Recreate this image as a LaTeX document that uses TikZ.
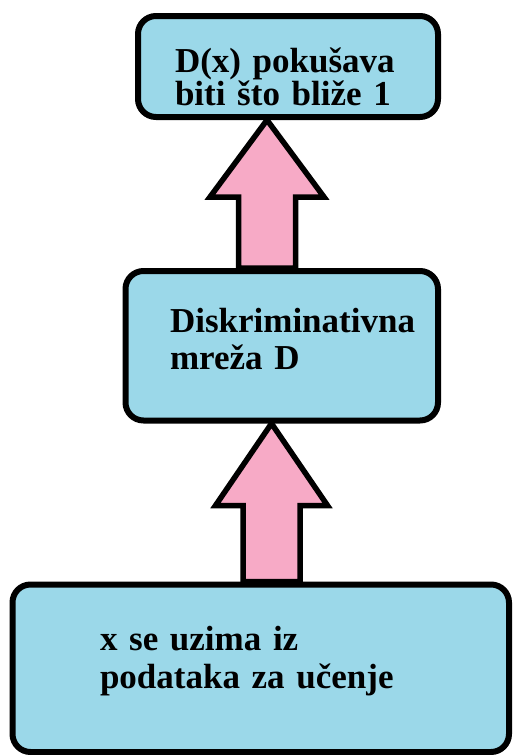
\documentclass[tikz,border=0pt]{standalone}
\usepackage{fontspec}
\setmainfont{Liberation Serif}
\usetikzlibrary{calc,backgrounds}
\definecolor{boxblue}{RGB}{155,216,233}
\definecolor{arrowpink}{RGB}{247,170,198}

\begin{document}
\begin{tikzpicture}[x=1pt,y=-1pt,
  netbox/.style={draw,line width=6pt,rounded corners=18pt,fill=boxblue,align=left,inner ysep=0pt,font=\bfseries\fontsize{35}{#1}\selectfont},
  netbox/.default=33,
  blockarrow/.style={draw,line width=5.5pt,fill=arrowpink}]
\useasboundingbox (0,0) rectangle (512,755);
% boxes
\node[netbox,text width=226pt,inner xsep=37pt,text height=56pt,text depth=45pt] (goal) at (288,66.5) {D(x) pokušava\\biti što bliže 1};
\node[netbox=37,text width=223.5pt,inner xsep=44.5pt,text height=61pt,text depth=88.5pt] (disc) at (281.75,345.75) {Diskriminativna\\mreža D};
\node[netbox=38,text width=321.5pt,inner xsep=87.5pt,text height=65.5pt,text depth=102pt] (data) at (260.75,668.25) {x se uzima iz\\podataka za učenje};
% arrows behind the boxes
\begin{scope}[on background layer]
\fill[white] (0,0) rectangle (512,755);
\coordinate (tipa) at (267,0 |- goal.south);
\draw[blockarrow] (tipa) -- ++(57,77) -- ++(-28.5,0) -- ($(tipa |- disc.north)+(28.5,0)$) -- ++(-57,0) -- ($(tipa)+(-28.5,77)$) -- ++(-28.5,0) -- cycle;
\coordinate (tipb) at (271.5,0 |- disc.south);
\draw[blockarrow] (tipb) -- ++(56,82) -- ++(-27.5,0) -- ($(tipb |- data.north)+(28.5,0)$) -- ++(-57,0) -- ($(tipb)+(-28.5,82)$) -- ++(-27.5,0) -- cycle;
\end{scope}
\end{tikzpicture}
\end{document}
